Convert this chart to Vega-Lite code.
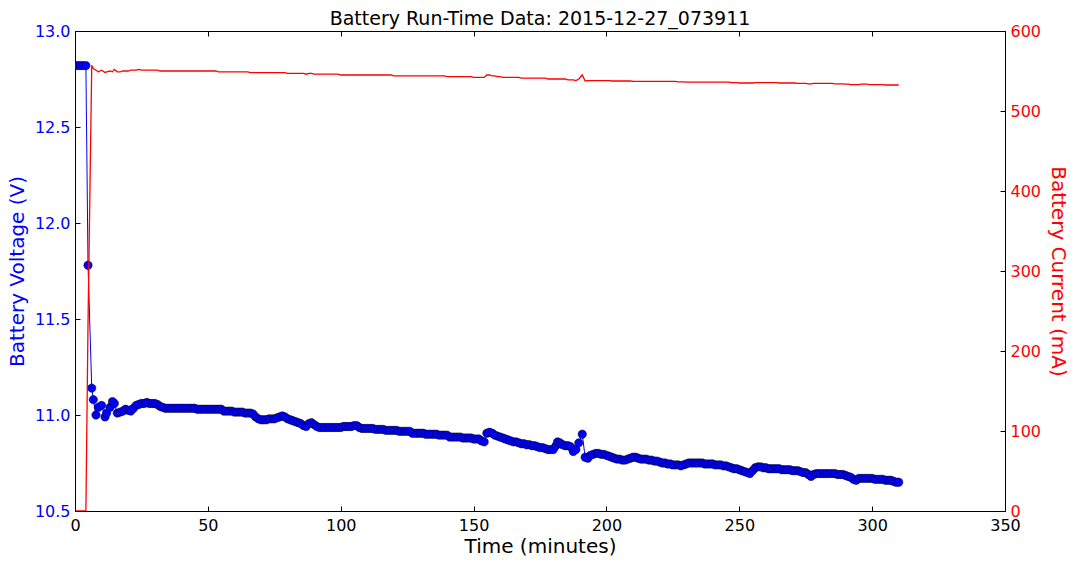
{
  "$schema": "https://vega.github.io/schema/vega-lite/v6.json",
  "width": 930,
  "height": 480,
  "autosize": {"type": "none"},
  "padding": {"left": 75, "top": 31, "right": 72, "bottom": 54},
  "background": "white",
  "config": {
    "font": "DejaVu Sans",
    "view": {"stroke": "black", "strokeWidth": 1},
    "axis": {"grid": false, "domainColor": "black", "tickColor": "black", "labelFontSize": 16, "titleFontSize": 20, "titleFontWeight": "normal", "labelFont": "DejaVu Sans", "titleFont": "DejaVu Sans", "labelFlush": false, "labelOverlap": false}
  },
  "title": {"text": "Battery Run-Time Data: 2015-12-27_073911", "fontSize": 19, "fontWeight": "normal", "font": "DejaVu Sans", "offset": -6, "color": "black"},
  "data": {"values": [
    {"t":0,"v":12.82,"c":0},{"t":1,"v":12.82,"c":0},{"t":2,"v":12.82,"c":0},{"t":3,"v":12.82,"c":0},{"t":4.1,"v":12.82,"c":0},
    {"t":4.9,"v":11.78,"c":235},{"t":6.3,"v":11.14,"c":557},{"t":6.9,"v":11.08,"c":553},{"t":7.9,"v":11.0,"c":551},{"t":8.8,"v":11.04,"c":549},
    {"t":10,"v":11.05,"c":551},{"t":11.3,"v":10.99,"c":548},{"t":11.9,"v":11.01,"c":549},{"t":13.2,"v":11.04,"c":550},{"t":14.1,"v":11.07,"c":549},
    {"t":14.8,"v":11.06,"c":552},{"t":15.9,"v":11.01,"c":549},{"t":17,"v":11.015,"c":549},{"t":18,"v":11.02,"c":550},{"t":19,"v":11.03,"c":550},
    {"t":20,"v":11.025,"c":550},{"t":21,"v":11.02,"c":551},{"t":22,"v":11.035,"c":551},{"t":23,"v":11.05,"c":551},{"t":24,"v":11.055,"c":552},
    {"t":25,"v":11.06,"c":551},{"t":26,"v":11.06,"c":551},{"t":27,"v":11.065,"c":551},{"t":28,"v":11.06,"c":551},{"t":29,"v":11.06,"c":551},
    {"t":30,"v":11.06,"c":551},{"t":31,"v":11.055,"c":551},{"t":32,"v":11.045,"c":550},{"t":33,"v":11.04,"c":550},{"t":34,"v":11.035,"c":550},
    {"t":35,"v":11.035,"c":550},{"t":36,"v":11.035,"c":550},{"t":37,"v":11.035,"c":550},{"t":38,"v":11.035,"c":550},{"t":39,"v":11.035,"c":550},
    {"t":40,"v":11.035,"c":550},{"t":41,"v":11.035,"c":550},{"t":42,"v":11.035,"c":550},{"t":43,"v":11.035,"c":550},{"t":44,"v":11.035,"c":550},
    {"t":45,"v":11.035,"c":550},{"t":46,"v":11.03,"c":550},{"t":47,"v":11.03,"c":550},{"t":48,"v":11.03,"c":550},{"t":49,"v":11.03,"c":550},
    {"t":50,"v":11.03,"c":550},{"t":51,"v":11.03,"c":550},{"t":52,"v":11.03,"c":550},{"t":53,"v":11.03,"c":550},{"t":54,"v":11.03,"c":549},
    {"t":55,"v":11.03,"c":549},{"t":56,"v":11.02,"c":549},{"t":57,"v":11.02,"c":549},{"t":58,"v":11.02,"c":549},{"t":59,"v":11.02,"c":549},
    {"t":60,"v":11.015,"c":549},{"t":61,"v":11.015,"c":549},{"t":62,"v":11.015,"c":549},{"t":63,"v":11.015,"c":549},{"t":64,"v":11.01,"c":549},
    {"t":65,"v":11.01,"c":549},{"t":66,"v":11.01,"c":548},{"t":67,"v":11.005,"c":548},{"t":68,"v":10.99,"c":548},{"t":69,"v":10.98,"c":548},
    {"t":70,"v":10.975,"c":548},{"t":71,"v":10.975,"c":548},{"t":72,"v":10.975,"c":548},{"t":73,"v":10.98,"c":548},{"t":74,"v":10.98,"c":548},
    {"t":75,"v":10.98,"c":548},{"t":76,"v":10.985,"c":548},{"t":77,"v":10.99,"c":548},{"t":78,"v":10.995,"c":548},{"t":79,"v":10.99,"c":548},
    {"t":80,"v":10.98,"c":547},{"t":81,"v":10.975,"c":547},{"t":82,"v":10.97,"c":547},{"t":83,"v":10.965,"c":547},{"t":84,"v":10.96,"c":547},
    {"t":85,"v":10.955,"c":547},{"t":86,"v":10.945,"c":547},{"t":87,"v":10.94,"c":546},{"t":88,"v":10.955,"c":547},{"t":89,"v":10.96,"c":547},
    {"t":90,"v":10.95,"c":546},{"t":91,"v":10.94,"c":546},{"t":92,"v":10.935,"c":546},{"t":93,"v":10.935,"c":546},{"t":94,"v":10.935,"c":546},
    {"t":95,"v":10.935,"c":546},{"t":96,"v":10.935,"c":546},{"t":97,"v":10.935,"c":546},{"t":98,"v":10.935,"c":546},{"t":99,"v":10.935,"c":546},
    {"t":100,"v":10.935,"c":545},{"t":101,"v":10.94,"c":545},{"t":102,"v":10.94,"c":545},{"t":103,"v":10.94,"c":545},{"t":104,"v":10.94,"c":545},
    {"t":105,"v":10.945,"c":545},{"t":106,"v":10.945,"c":545},{"t":107,"v":10.935,"c":545},{"t":108,"v":10.93,"c":545},{"t":109,"v":10.93,"c":545},
    {"t":110,"v":10.93,"c":545},{"t":111,"v":10.93,"c":545},{"t":112,"v":10.93,"c":545},{"t":113,"v":10.925,"c":545},{"t":114,"v":10.925,"c":545},
    {"t":115,"v":10.925,"c":545},{"t":116,"v":10.925,"c":545},{"t":117,"v":10.92,"c":545},{"t":118,"v":10.92,"c":545},{"t":119,"v":10.92,"c":545},
    {"t":120,"v":10.92,"c":544},{"t":121,"v":10.92,"c":544},{"t":122,"v":10.915,"c":544},{"t":123,"v":10.915,"c":544},{"t":124,"v":10.915,"c":544},
    {"t":125,"v":10.915,"c":544},{"t":126,"v":10.915,"c":544},{"t":127,"v":10.905,"c":544},{"t":128,"v":10.905,"c":544},{"t":129,"v":10.905,"c":544},
    {"t":130,"v":10.905,"c":544},{"t":131,"v":10.905,"c":544},{"t":132,"v":10.9,"c":544},{"t":133,"v":10.9,"c":544},{"t":134,"v":10.9,"c":544},
    {"t":135,"v":10.9,"c":544},{"t":136,"v":10.9,"c":544},{"t":137,"v":10.895,"c":544},{"t":138,"v":10.895,"c":544},{"t":139,"v":10.895,"c":544},
    {"t":140,"v":10.895,"c":543},{"t":141,"v":10.885,"c":543},{"t":142,"v":10.885,"c":543},{"t":143,"v":10.885,"c":543},{"t":144,"v":10.885,"c":543},
    {"t":145,"v":10.885,"c":543},{"t":146,"v":10.88,"c":543},{"t":147,"v":10.88,"c":543},{"t":148,"v":10.88,"c":543},{"t":149,"v":10.88,"c":543},
    {"t":150,"v":10.875,"c":542},{"t":151,"v":10.875,"c":542},{"t":152,"v":10.875,"c":542},{"t":153,"v":10.865,"c":542},{"t":154,"v":10.86,"c":542},
    {"t":155,"v":10.905,"c":545},{"t":156,"v":10.91,"c":545},{"t":157,"v":10.905,"c":544},{"t":158,"v":10.895,"c":544},{"t":159,"v":10.89,"c":543},
    {"t":160,"v":10.885,"c":543},{"t":161,"v":10.88,"c":542},{"t":162,"v":10.875,"c":542},{"t":163,"v":10.87,"c":542},{"t":164,"v":10.865,"c":542},
    {"t":165,"v":10.86,"c":542},{"t":166,"v":10.86,"c":542},{"t":167,"v":10.855,"c":542},{"t":168,"v":10.85,"c":541},{"t":169,"v":10.85,"c":541},
    {"t":170,"v":10.845,"c":541},{"t":171,"v":10.845,"c":541},{"t":172,"v":10.84,"c":541},{"t":173,"v":10.84,"c":541},{"t":174,"v":10.835,"c":541},
    {"t":175,"v":10.83,"c":541},{"t":176,"v":10.83,"c":541},{"t":177,"v":10.825,"c":541},{"t":178,"v":10.82,"c":540},{"t":179,"v":10.82,"c":540},
    {"t":180,"v":10.82,"c":540},{"t":181,"v":10.84,"c":540},{"t":181.6,"v":10.86,"c":540},{"t":182.5,"v":10.855,"c":540},{"t":183.5,"v":10.845,"c":540},
    {"t":184.5,"v":10.84,"c":540},{"t":185.5,"v":10.84,"c":539},{"t":186.5,"v":10.835,"c":539},{"t":187.5,"v":10.81,"c":539},{"t":188.5,"v":10.82,"c":538},
    {"t":189.6,"v":10.855,"c":540},{"t":190.9,"v":10.9,"c":545},{"t":192,"v":10.78,"c":537.5},{"t":193,"v":10.775,"c":538},{"t":194,"v":10.79,"c":538},
    {"t":195,"v":10.795,"c":538},{"t":196,"v":10.8,"c":538},{"t":197,"v":10.8,"c":538},{"t":198,"v":10.795,"c":538},{"t":199,"v":10.795,"c":538},
    {"t":200,"v":10.79,"c":538},{"t":201,"v":10.785,"c":538},{"t":202,"v":10.78,"c":537.5},{"t":203,"v":10.775,"c":537.5},{"t":204,"v":10.77,"c":537.5},
    {"t":205,"v":10.77,"c":537.5},{"t":206,"v":10.765,"c":537.5},{"t":207,"v":10.765,"c":537.5},{"t":208,"v":10.77,"c":537.5},{"t":209,"v":10.775,"c":537.5},
    {"t":210,"v":10.78,"c":537},{"t":211,"v":10.78,"c":537},{"t":212,"v":10.775,"c":537},{"t":213,"v":10.77,"c":537},{"t":214,"v":10.77,"c":537},
    {"t":215,"v":10.77,"c":537},{"t":216,"v":10.765,"c":537},{"t":217,"v":10.765,"c":537},{"t":218,"v":10.76,"c":537},{"t":219,"v":10.76,"c":537},
    {"t":220,"v":10.755,"c":537},{"t":221,"v":10.75,"c":537},{"t":222,"v":10.75,"c":537},{"t":223,"v":10.745,"c":537},{"t":224,"v":10.745,"c":537},
    {"t":225,"v":10.74,"c":537},{"t":226,"v":10.74,"c":537},{"t":227,"v":10.74,"c":536.5},{"t":228,"v":10.735,"c":536.5},{"t":229,"v":10.74,"c":536.5},
    {"t":230,"v":10.745,"c":536},{"t":231,"v":10.75,"c":536},{"t":232,"v":10.75,"c":536},{"t":233,"v":10.75,"c":536},{"t":234,"v":10.75,"c":536},
    {"t":235,"v":10.75,"c":536},{"t":236,"v":10.75,"c":536},{"t":237,"v":10.745,"c":536},{"t":238,"v":10.745,"c":536},{"t":239,"v":10.745,"c":536},
    {"t":240,"v":10.745,"c":536},{"t":241,"v":10.74,"c":536},{"t":242,"v":10.74,"c":536},{"t":243,"v":10.74,"c":536},{"t":244,"v":10.735,"c":536},
    {"t":245,"v":10.735,"c":536},{"t":246,"v":10.73,"c":536},{"t":247,"v":10.725,"c":535.5},{"t":248,"v":10.72,"c":535.5},{"t":249,"v":10.72,"c":535.5},
    {"t":250,"v":10.715,"c":535},{"t":251,"v":10.71,"c":535},{"t":252,"v":10.705,"c":535},{"t":253,"v":10.7,"c":535},{"t":254,"v":10.695,"c":535},
    {"t":255,"v":10.71,"c":535},{"t":256,"v":10.725,"c":535.5},{"t":257,"v":10.73,"c":535.5},{"t":258,"v":10.73,"c":535.5},{"t":259,"v":10.725,"c":535.5},
    {"t":260,"v":10.725,"c":535.5},{"t":261,"v":10.72,"c":535.5},{"t":262,"v":10.72,"c":535.5},{"t":263,"v":10.72,"c":535.5},{"t":264,"v":10.72,"c":535.5},
    {"t":265,"v":10.72,"c":535},{"t":266,"v":10.715,"c":535},{"t":267,"v":10.715,"c":535},{"t":268,"v":10.715,"c":535},{"t":269,"v":10.715,"c":535},
    {"t":270,"v":10.71,"c":535},{"t":271,"v":10.71,"c":535},{"t":272,"v":10.71,"c":534.5},{"t":273,"v":10.705,"c":534.5},{"t":274,"v":10.7,"c":534.5},
    {"t":275,"v":10.7,"c":534.5},{"t":276,"v":10.69,"c":534},{"t":277,"v":10.68,"c":534},{"t":278,"v":10.69,"c":534.5},{"t":279,"v":10.695,"c":534.5},
    {"t":280,"v":10.695,"c":534.5},{"t":281,"v":10.695,"c":534.5},{"t":282,"v":10.695,"c":534.5},{"t":283,"v":10.695,"c":534.5},{"t":284,"v":10.695,"c":534.5},
    {"t":285,"v":10.695,"c":534.5},{"t":286,"v":10.695,"c":534},{"t":287,"v":10.69,"c":534},{"t":288,"v":10.69,"c":534},{"t":289,"v":10.69,"c":534},
    {"t":290,"v":10.685,"c":533.5},{"t":291,"v":10.68,"c":533.5},{"t":292,"v":10.675,"c":533},{"t":293,"v":10.665,"c":533},{"t":294,"v":10.66,"c":533},
    {"t":295,"v":10.67,"c":533},{"t":296,"v":10.67,"c":533.5},{"t":297,"v":10.67,"c":533.5},{"t":298,"v":10.67,"c":533.5},{"t":299,"v":10.67,"c":533},
    {"t":300,"v":10.67,"c":533},{"t":301,"v":10.665,"c":533},{"t":302,"v":10.665,"c":533},{"t":303,"v":10.665,"c":533},{"t":304,"v":10.665,"c":533},
    {"t":305,"v":10.66,"c":532.5},{"t":306,"v":10.66,"c":532.5},{"t":307,"v":10.66,"c":532.5},{"t":308,"v":10.655,"c":532.5},{"t":309,"v":10.65,"c":532.5},
    {"t":310,"v":10.65,"c":532.5}
  ]},
  "layer": [
    {
      "layer": [
        {"mark": {"type": "line", "color": "#0000ff", "strokeWidth": 1, "clip": true}},
        {"mark": {"type": "point", "shape": "circle", "filled": true, "fill": "#0000ff", "stroke": "#000000", "strokeWidth": 0.5, "size": 70, "opacity": 1, "clip": true}}
      ],
      "encoding": {
        "x": {"field": "t", "type": "quantitative", "scale": {"domain": [0, 350], "nice": false},
              "axis": {"orient": "bottom", "values": [0, 50, 100, 150, 200, 250, 300, 350], "title": "Time (minutes)", "titleColor": "black", "labelColor": "black", "tickSize": -5, "labelPadding": 11, "titlePadding": 3}},
        "y": {"field": "v", "type": "quantitative", "scale": {"domain": [10.5, 13.0], "nice": false, "zero": false},
              "axis": {"orient": "left", "values": [10.5, 11.0, 11.5, 12.0, 12.5, 13.0], "format": ".1f", "title": "Battery Voltage (V)", "titleColor": "#0000ff", "labelColor": "#0000ff", "tickSize": -5, "labelPadding": 10, "titlePadding": 7}}
      }
    },
    {
      "mark": {"type": "line", "color": "#ff0000", "strokeWidth": 1.3, "clip": true},
      "encoding": {
        "x": {"field": "t", "type": "quantitative", "scale": {"domain": [0, 350], "nice": false},
              "axis": {"orient": "top", "values": [0, 50, 100, 150, 200, 250, 300, 350], "labels": false, "title": null, "tickSize": -5, "domain": false}},
        "y": {"field": "c", "type": "quantitative", "scale": {"domain": [0, 600], "nice": false},
              "axis": {"orient": "right", "values": [0, 100, 200, 300, 400, 500, 600], "title": "Battery Current (mA)", "titleColor": "#ff0000", "labelColor": "#ff0000", "tickSize": -5, "labelPadding": 10, "titlePadding": 7}}
      }
    }
  ],
  "resolve": {"scale": {"y": "independent"}, "axis": {"x": "independent"}}
}
